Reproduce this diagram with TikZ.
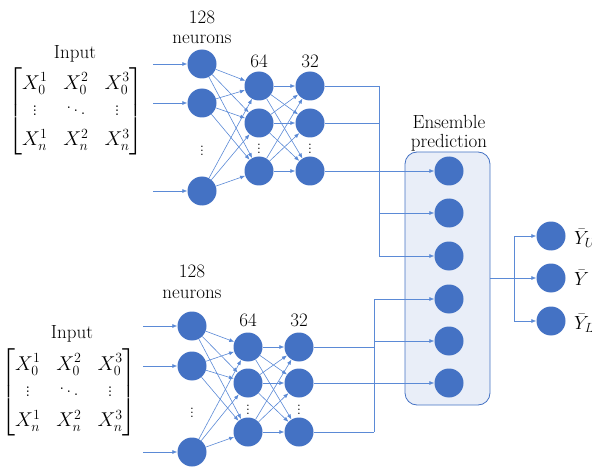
\RequirePackage{fix-cm}
\documentclass[tikz,border=0pt]{standalone}
\usepackage{amsmath}
\usetikzlibrary{arrows.meta}
\definecolor{nblue}{HTML}{4472C4}
\definecolor{lblue}{HTML}{5B8AD6}
\definecolor{boxfill}{HTML}{E9EEF8}
\newcommand{\inmatrix}{$\setlength{\arraycolsep}{8pt}\renewcommand{\arraystretch}{1.35}\begin{bmatrix} X_0^1 & X_0^2 & X_0^3\\[-6pt] \vdots & \ddots & \vdots\\[-2pt] X_n^1 & X_n^2 & X_n^3\end{bmatrix}$}
\tikzset{
  neuron/.style={circle, fill=nblue, minimum size=29pt, inner sep=0pt},
  link/.style={draw=lblue, line width=0.6pt, -{Latex[length=5pt,width=4pt]}},
  wire/.style={draw=lblue, line width=0.6pt},
  lbl/.style={font=\fontsize{19}{22}\selectfont, inner sep=0pt},
  mat/.style={font=\fontsize{20}{24}\selectfont, inner sep=0pt},
  vdot/.style={font=\fontsize{17}{18}\selectfont, inner sep=0pt}
}
\begin{document}
\begin{tikzpicture}[x=1pt, y=-1pt]
\useasboundingbox (0,0) rectangle (592,468);

% ---- input matrices ----
\node[lbl] (in1) at (75,54) {Input};
\node[mat] (m1) at (76,111) {\inmatrix};
\node[lbl] (in2) at (72,334) {Input};
\node[mat] (m2) at (69,392) {\inmatrix};

% ---- upper network ----
\node[lbl] (t128) at (202,17) {128};
\node[lbl] (tneu) at (202,39) {neurons};
\node[lbl] (t64) at (259,61) {64};
\node[lbl] (t32) at (310,61) {32};
\node[neuron] (a1) at (202,64) {};
\node[neuron] (a2) at (202,103) {};
\node[neuron] (a3) at (202,191) {};
\node[vdot] (ad) at (202,148) {$\vdots$};
\node[neuron] (b1) at (259,86) {};
\node[neuron] (b2) at (259,123) {};
\node[neuron] (b3) at (259,171) {};
\node[vdot] (bd) at (259,146) {$\vdots$};
\node[neuron] (c1) at (310,86) {};
\node[neuron] (c2) at (310,123) {};
\node[neuron] (c3) at (310,171) {};
\node[vdot] (cd) at (310,146) {$\vdots$};
\coordinate (ia1) at (153,64);
\coordinate (ia2) at (153,103);
\coordinate (ia3) at (153,191);
\foreach \i in {1,2,3} {
  \draw[link] (ia\i) -- (a\i);
  \foreach \j in {1,2,3} {
    \draw[link] (a\i) -- (b\j);
    \draw[link] (b\i) -- (c\j);
  }
}

% ---- lower network ----
\node[lbl] (l128) at (192,271) {128};
\node[lbl] (lneu) at (192,294) {neurons};
\node[lbl] (l64) at (248,320) {64};
\node[lbl] (l32) at (299,320) {32};
\node[neuron] (d1) at (192,326) {};
\node[neuron] (d2) at (192,366) {};
\node[neuron] (d3) at (192,452) {};
\node[vdot] (dd) at (192,410) {$\vdots$};
\node[neuron] (e1) at (248,347) {};
\node[neuron] (e2) at (248,383) {};
\node[neuron] (e3) at (248,432) {};
\node[vdot] (ed) at (248,407) {$\vdots$};
\node[neuron] (f1) at (299,347) {};
\node[neuron] (f2) at (299,383) {};
\node[neuron] (f3) at (299,432) {};
\node[vdot] (fd) at (299,407) {$\vdots$};
\coordinate (id1) at (143,326);
\coordinate (id2) at (143,366);
\coordinate (id3) at (143,452);
\foreach \i in {1,2,3} {
  \draw[link] (id\i) -- (d\i);
  \foreach \j in {1,2,3} {
    \draw[link] (d\i) -- (e\j);
    \draw[link] (e\i) -- (f\j);
  }
}

% ---- ensemble block ----
\node[lbl] (ens) at (449,122) {Ensemble};
\node[lbl] (pred) at (449,143) {prediction};
\draw[draw=nblue, fill=boxfill, line width=0.8pt, rounded corners=12pt] (405,152) rectangle (490,405);
\node[neuron] (g1) at (449,171) {};
\node[neuron] (g2) at (449,213) {};
\node[neuron] (g3) at (449,256) {};
\node[neuron] (g4) at (449,299) {};
\node[neuron] (g5) at (449,341) {};
\node[neuron] (g6) at (449,383) {};

% upper network to ensemble
\coordinate (tb1) at (379,86);
\coordinate (tb2) at (379,123);
\coordinate (tb3) at (379,213);
\coordinate (tb4) at (379,256);
\draw[wire] (c1) -- (tb1);
\draw[wire] (c2) -- (tb2);
\draw[wire] (tb1) -- (tb4);
\draw[link] (c3) -- (g1);
\draw[link] (tb3) -- (g2);
\draw[link] (tb4) -- (g3);

% lower network to ensemble
\coordinate (lb1) at (374,299);
\coordinate (lb2) at (374,341);
\coordinate (lb3) at (374,347);
\coordinate (lb4) at (374,432);
\draw[wire] (f1) -- (lb3);
\draw[wire] (f3) -- (lb4);
\draw[wire] (lb1) -- (lb4);
\draw[link] (f2) -- (g6);
\draw[link] (lb1) -- (g4);
\draw[link] (lb2) -- (g5);

% ---- outputs ----
\node[neuron] (o1) at (551,236) {};
\node[neuron] (o2) at (551,278) {};
\node[neuron] (o3) at (551,321) {};
\node[lbl, anchor=west] (y1) at (574,238) {$\bar{Y}_U$};
\node[lbl, anchor=west] (y2) at (574,278) {$\bar{Y}$};
\node[lbl, anchor=west] (y3) at (574,323) {$\bar{Y}_L$};
\coordinate (os) at (490,278);
\coordinate (ob1) at (514,236);
\coordinate (ob2) at (514,278);
\coordinate (ob3) at (514,321);
\draw[wire] (os) -- (ob2);
\draw[wire] (ob1) -- (ob3);
\draw[link] (ob1) -- (o1);
\draw[link] (ob2) -- (o2);
\draw[link] (ob3) -- (o3);
\end{tikzpicture}
\end{document}
